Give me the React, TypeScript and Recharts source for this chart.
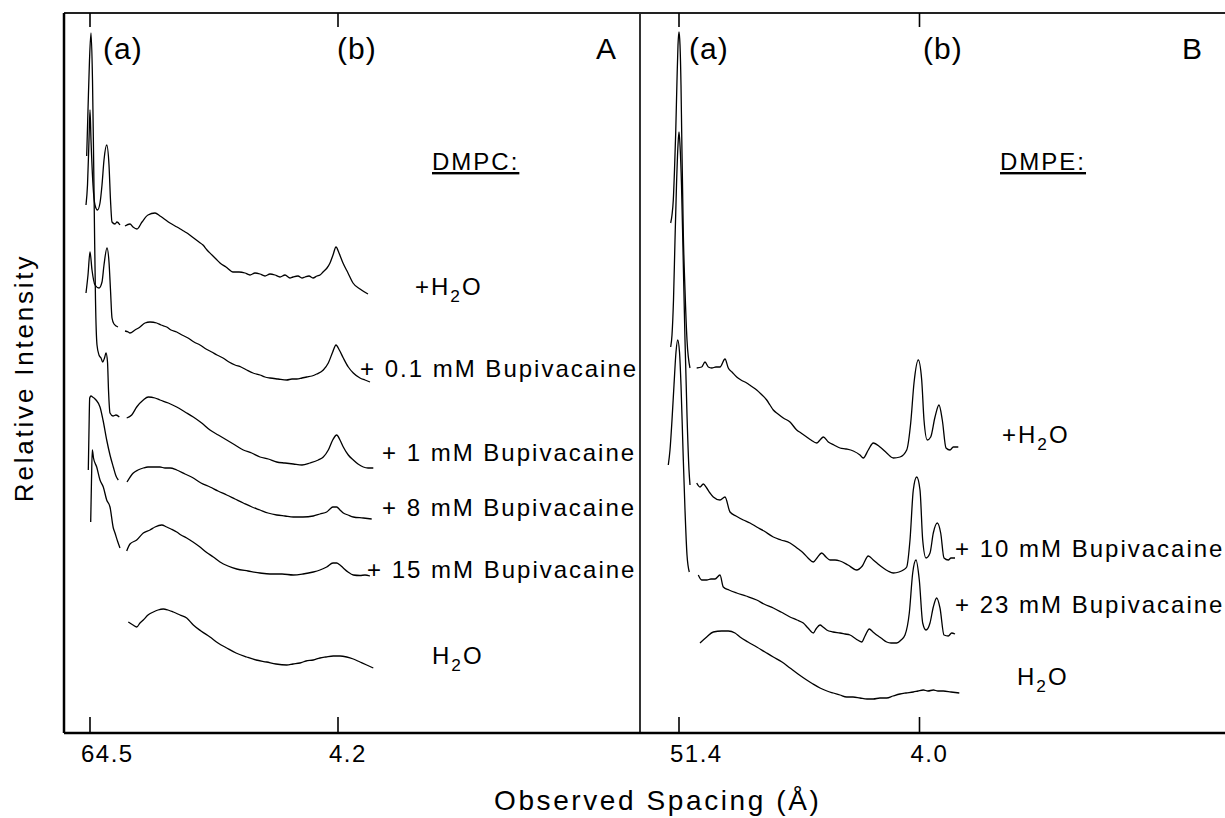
import React from 'react';
import { LineChart, Line, XAxis, YAxis, ReferenceLine } from 'recharts';

type Pt = [number, number];

const FONT = '"Liberation Sans", Arial, Helvetica, sans-serif';

// detector channel of the reflections and their spacing labels (Å)
const TICK_POSITIONS = [26, 274, 615, 855.5];
const TICK_LABELS = ['64.5', '4.2', '51.4', '4.0'];
const PANEL_DIVIDER = 576;
const X_DOMAIN: [number, number] = [0, 1224];
const Y_DOMAIN: [number, number] = [0, 720];

// ---------- Panel A : DMPC (channel, offset intensity) ----------
const A_WATER_PLUS_LOW: Pt[] = [[22,528],[23.5,548],[25,593],[26,623],[27,593],[29,548],[31,528],[33.5,523],[36,530],[38,548],[40,573],[42.7,588],[45,568],[46.5,533],[48,511],[51,509],[53,511],[56,508]];
const A_WATER_PLUS_WIDE: Pt[] = [[61,507],[66,509],[69,506],[73,504],[78,511],[84,518],[91,520],[96,517],[99,515],[106,510],[113,506],[118,503],[123,500],[127,497],[131,494],[135,491],[139,488],[143,483],[148,478],[152,474],[156,470],[162,466],[169,461],[175,461],[181,460],[186,458],[191,460],[196,459],[201,457],[206,459],[211,458],[216,456],[221,458],[226,455],[229,456],[234,457],[238,455],[241,456],[245,457],[249,455],[253,457],[256,458],[259,461],[263,465],[266,470],[269,478],[272,486],[275,480],[279,470],[284,460],[289,450],[296,444],[304,439]];
const A_BUP01_LOW: Pt[] = [[22,440],[24,458],[26,481],[28,463],[31,448],[35,445],[38,451],[40,468],[43,485],[45,471],[46.5,443],[48,415],[50,409],[54,406]];
const A_BUP01_WIDE: Pt[] = [[61,402],[64.3,401],[66,400],[71,403],[76,406],[81,410],[86,411],[92.7,410],[97,408],[102.7,406],[107,403],[112.7,401],[118,398],[124,395],[130,391],[136,388],[142,384],[147.7,381],[153,378],[159,375],[165,371],[171,368],[177,366],[182.7,363],[189,360],[196,358],[201,356],[206,355],[214,354],[222.7,353],[228,354],[232.7,354],[238,355],[242.7,356],[248,357],[252.7,359],[259.3,363],[264.3,370],[268.7,381],[272,388],[275.3,383],[279.3,375],[284.3,366],[289.3,360],[296,355],[301,353],[306,351]];
const A_BUP1_LOW: Pt[] = [[22.7,577],[24,623],[25.5,673],[27,700],[28.5,653],[29.5,583],[30.5,503],[31.5,433],[33,388],[35,378],[37,375],[38.7,371],[40.5,375],[42,380],[43.5,371],[44.5,343],[46,320],[49,317],[52,318],[55.3,316]];
const A_BUP1_WIDE: Pt[] = [[62.7,315],[67.7,318],[72.7,326],[79.3,333],[84.3,336],[91,335],[96,333],[104.3,330],[112.7,326],[121,321],[129.3,316],[137.7,310],[146,303],[154.3,298],[162.7,293],[171,288],[179.3,283],[187.7,280],[196,276],[204.3,274],[212.7,271],[221,270],[229.3,269],[238,268],[246,270],[254.3,273],[259.3,276],[264.3,283],[268.7,293],[272.7,298],[276,293],[279.3,286],[284.3,278],[289.3,273],[294,269],[299.3,266],[304,265],[309.3,265]];
const A_BUP8_LOW: Pt[] = [[24.3,263],[25,303],[25.7,335],[27,337],[28.5,336],[30,335],[32,333],[36,326],[39,313],[42.7,293],[46,278],[49.3,266],[52,257],[54.3,253]];
const A_BUP8_WIDE: Pt[] = [[63,251],[69.3,260],[74,263],[79.3,265],[84,266],[89.3,266],[96,266],[101,265],[106,265],[112.7,263],[121,259],[129.3,255],[137,250],[146,246],[154,242],[162.7,238],[171,234],[179.3,230],[188,226],[196,223],[204,220],[212.7,218],[221,217],[229.3,216],[239,216],[249.3,217],[256,219],[262.7,221],[266,224],[269,226],[272.7,226],[276,223],[279.3,220],[284,218],[289.3,216],[299.3,215],[307.7,214]];
const A_BUP15_LOW: Pt[] = [[26.7,211],[27.5,253],[28.3,283],[29.5,275],[32.7,266],[36,253],[39.3,246],[42.7,233],[46,226],[49.3,205],[51,200],[53.5,192],[56,185]];
const A_BUP15_WIDE: Pt[] = [[62.7,182],[66,189],[72.7,193],[79.3,200],[86,203],[91,206],[97.7,208],[102.7,206],[107,204],[112.7,201],[117,198],[122.7,195],[129,191],[136,186],[142,181],[149.3,176],[156,171],[164,167],[172.7,164],[184,162],[196,160],[206,159],[218,159],[229.3,158],[239,159],[249.3,161],[256,163],[262.7,166],[269,170],[272.7,170],[276,168],[279.3,165],[284,161],[289.3,158],[296,157.5],[301,158],[306,157]];
const A_WATER: Pt[] = [[64.3,111],[69,108],[72.7,106],[76,110],[79.3,113],[84,118],[89.3,121],[94,123],[99.3,124],[104,123],[109.3,121],[116,118],[122.7,115],[129.3,108],[137,102],[146,96],[154,90],[162.7,85],[172,80],[182.7,76],[192,73],[202.7,71],[212,69],[222.7,68],[229,69],[236,70],[242,72],[249.3,73],[256,75],[262,76],[269.3,77],[276,77],[282.7,76],[289.3,74],[296,71],[302.7,68],[309.3,65]];

// ---------- Panel B : DMPE ----------
const B_WATER_PLUS_LOW: Pt[] = [[606.7,510],[608,518],[609.3,533],[610.5,563],[611.7,600],[613,653],[614,688],[615,701],[616,688],[617,648],[617.7,600],[619.3,500],[621,443],[623,393],[626,365]];
const B_WATER_PLUS_WIDE: Pt[] = [[632.7,365],[637.7,366],[641,371],[644.3,366],[647.7,365],[652,366],[656,366],[661,374],[664.3,365],[668,361],[672.7,356],[677,353],[682.7,350],[687,347],[692.7,343],[697,339],[702.7,333],[706,328],[709.3,323],[714,319],[719.3,315],[726,311],[732.7,303],[737,300],[742.7,296],[747,293],[752.7,290],[756,293],[759.3,296],[764.3,291],[770,288],[776,285],[782,284],[789.3,282],[796,278],[799.3,275],[804.3,283],[809.3,290],[816,286],[822.7,280],[829.3,275],[836,276],[842.7,283],[846.7,310],[850,350],[854.3,373],[857.7,353],[860,313],[863.3,293],[866.7,296],[871,316],[875,328],[878.3,313],[882,285],[886,283],[889.3,286],[894.3,286]];
const B_BUP10_LOW: Pt[] = [[606.7,386],[608,398],[609.5,433],[611,493],[612.5,548],[614,588],[615,601],[616,588],[617.5,548],[619,483],[621,393],[623,318],[625,263],[626,248]];
const B_BUP10_WIDE: Pt[] = [[632.7,250],[636,246],[639.3,249],[642.7,245],[646,240],[649.3,236],[656,233],[661,236],[666,221],[672,217],[679.3,213],[686,210],[692.7,206],[700,202],[709.3,196],[717,193],[726,190],[733,185],[739.3,180],[744,175],[749.3,171],[753,175],[757.7,180],[762,176],[766,173],[771,173],[776,172],[784,168],[792.7,163],[798.3,167],[804.3,177],[809.3,173],[814,169],[819.3,165],[824,162],[829.3,160],[835,161],[839.3,163],[842.7,166],[846,193],[849.3,243],[852.7,256],[856,243],[858.7,193],[862,175],[866,180],[869.3,200],[873.3,210],[876.7,200],[880,175],[884.3,173],[887,175],[891,175]];
const B_BUP23_LOW: Pt[] = [[604.3,268],[606,283],[608,313],[610,348],[612,381],[613.7,393],[615.5,381],[617,348],[619,283],[621,223],[623,178],[625.3,161]];
const B_BUP23_WIDE: Pt[] = [[634.3,158],[637.7,153],[642.7,153],[647,154],[651,154],[656,158],[659.3,146],[665,143],[672.7,140],[682,137],[692.7,133],[700,129],[709.3,125],[717,121],[726,116],[733,113],[739.3,110],[744,105],[749.3,100],[752,104],[756,108],[759,106],[762.7,103],[769,101],[776,100],[781,99],[786,98],[792,94],[797.7,91],[801,97],[805.3,104],[809,101],[812.7,98],[817,95],[822.7,91],[827,90],[832.7,90],[837,93],[841,98],[845.3,120],[848.7,160],[852,173],[855.3,153],[858.7,110],[862,103],[866,110],[869.3,126],[872.7,135],[876,125],[880,98],[884.3,97],[887.7,100],[891,99]];
const B_WATER: Pt[] = [[636,90],[642.7,96],[649.3,101],[657.7,102],[664.3,102],[671,100],[676,96],[684,91],[692.7,86],[701,81],[709.3,76],[718,71],[726,65],[734,59],[742.7,53],[749,49],[756,45],[763,42],[769.3,40],[776,38],[782.7,36],[789,36],[796,35],[803,34],[809.3,34],[816,35],[822.7,35],[829,37],[836,39],[842,40],[849.3,41],[854,42],[859.3,43],[864,42],[869.3,43],[874,42],[879.3,42],[887,41],[895.3,40]];

const SERIES: Pt[][] = [
  A_WATER_PLUS_LOW, A_WATER_PLUS_WIDE, A_BUP01_LOW, A_BUP01_WIDE, A_BUP1_LOW, A_BUP1_WIDE,
  A_BUP8_LOW, A_BUP8_WIDE, A_BUP15_LOW, A_BUP15_WIDE, A_WATER,
  B_WATER_PLUS_LOW, B_WATER_PLUS_WIDE, B_BUP10_LOW, B_BUP10_WIDE, B_BUP23_LOW, B_BUP23_WIDE, B_WATER,
];

// text
const PANEL_MARKS = ['(a)', '(b)', 'A', '(a)', '(b)', 'B'];
const LIPIDS = ['DMPC:', 'DMPE:'];
const A_LABELS = ['+H2O', '+ 0.1 mM Bupivacaine', '+ 1 mM Bupivacaine', '+ 8 mM Bupivacaine', '+ 15 mM Bupivacaine', 'H2O'];
const B_LABELS = ['+H2O', '+ 10 mM Bupivacaine', '+ 23 mM Bupivacaine', 'H2O'];
const Y_TITLE = 'Relative Intensity';
const X_TITLE = 'Observed Spacing (Å)';

// layout (pixels)
const MARK_POS = [[103, 59], [337, 59], [596, 59], [689, 59], [923, 59], [1182, 59]];
const LIPID_POS = [[432, 170], [1000, 170]];
const A_LABEL_POS = [[415, 295], [360, 377], [382, 461], [382, 516], [367, 578], [432, 664]];
const B_LABEL_POS = [[1002, 443], [955, 557], [955, 613], [1017, 685]];

const toRows = (pts: Pt[]) => pts.map(([x, y]) => ({ x, y }));

const BottomTick = (props: any) => {
  const { x, y, payload } = props;
  const label = TICK_LABELS[TICK_POSITIONS.indexOf(payload.value)];
  return (
    <g>
      <line x1={x} x2={x} y1={y} y2={y - 16} stroke="#000" strokeWidth={1.6} />
      <text x={x - 9} y={y + 29} fontSize={24} letterSpacing={1.5} fontFamily={FONT} fill="#000">{label}</text>
    </g>
  );
};

const TopTick = (props: any) => {
  const { x, y } = props;
  return <line x1={x} x2={x} y1={y} y2={y + 14} stroke="#000" strokeWidth={1.6} />;
};

const LabelText = ({ text, x, y, size = 24, ls = 2, underline = false }: any) => {
  const i = text.indexOf('H2O');
  const common = { x, y, fontSize: size, letterSpacing: ls, fontFamily: FONT, fill: '#000', textDecoration: underline ? 'underline' : undefined };
  if (i < 0) return <text {...common}>{text}</text>;
  return (
    <text {...common}>
      {text.slice(0, i)}H
      <tspan dy={7} fontSize={size * 0.72}>2</tspan>
      <tspan dy={-7}>O</tspan>
    </text>
  );
};

export default function App() {
  return (
    <div style={{ position: 'absolute', left: 0, top: 0, width: 1225, height: 818, overflow: 'hidden', background: '#fff' }}>
      <LineChart width={1290} height={818} margin={{ top: 12, right: 2, bottom: 84, left: 63 }}>
        <XAxis xAxisId="b" dataKey="x" type="number" domain={X_DOMAIN} ticks={TICK_POSITIONS} interval={0}
          height={1} tickSize={0} tickMargin={0} tickLine={false} allowDataOverflow
          axisLine={{ stroke: '#000', strokeWidth: 2.5 }} tick={<BottomTick />} />
        <XAxis xAxisId="t" orientation="top" dataKey="x" type="number" domain={X_DOMAIN} ticks={TICK_POSITIONS} interval={0}
          height={1} tickSize={0} tickMargin={0} tickLine={false} allowDataOverflow
          axisLine={{ stroke: '#222', strokeWidth: 2 }} tick={<TopTick />} />
        <YAxis yAxisId="l" type="number" domain={Y_DOMAIN} width={1} tick={false} tickLine={false} allowDataOverflow
          axisLine={{ stroke: '#000', strokeWidth: 2.5 }} />
        <ReferenceLine xAxisId="b" yAxisId="l" x={PANEL_DIVIDER} stroke="#000" strokeWidth={1.6} />
        {SERIES.map((s, i) => (
          <Line key={i} xAxisId="b" yAxisId="l" data={toRows(s)} dataKey="y" type="monotone"
            stroke="#000" strokeWidth={1.3} dot={false} isAnimationActive={false} />
        ))}
      </LineChart>
      <svg width={1225} height={818} style={{ position: 'absolute', left: 0, top: 0, pointerEvents: 'none' }}>
        {PANEL_MARKS.map((m, i) => (
          <LabelText key={'m' + i} text={m} x={MARK_POS[i][0]} y={MARK_POS[i][1]} size={30} ls={1} />
        ))}
        {LIPIDS.map((m, i) => (
          <LabelText key={'l' + i} text={m} x={LIPID_POS[i][0]} y={LIPID_POS[i][1]} size={24} ls={2} underline />
        ))}
        {A_LABELS.map((m, i) => (
          <LabelText key={'a' + i} text={m} x={A_LABEL_POS[i][0]} y={A_LABEL_POS[i][1]} />
        ))}
        {B_LABELS.map((m, i) => (
          <LabelText key={'b' + i} text={m} x={B_LABEL_POS[i][0]} y={B_LABEL_POS[i][1]} />
        ))}
        <text transform="translate(24,378) rotate(-90)" textAnchor="middle" dominantBaseline="central"
          fontSize={26} letterSpacing={2.8} fontFamily={FONT} fill="#000">{Y_TITLE}</text>
        <text x={494} y={810} fontSize={28} letterSpacing={2.6} fontFamily={FONT} fill="#000">{X_TITLE}</text>
      </svg>
    </div>
  );
}
